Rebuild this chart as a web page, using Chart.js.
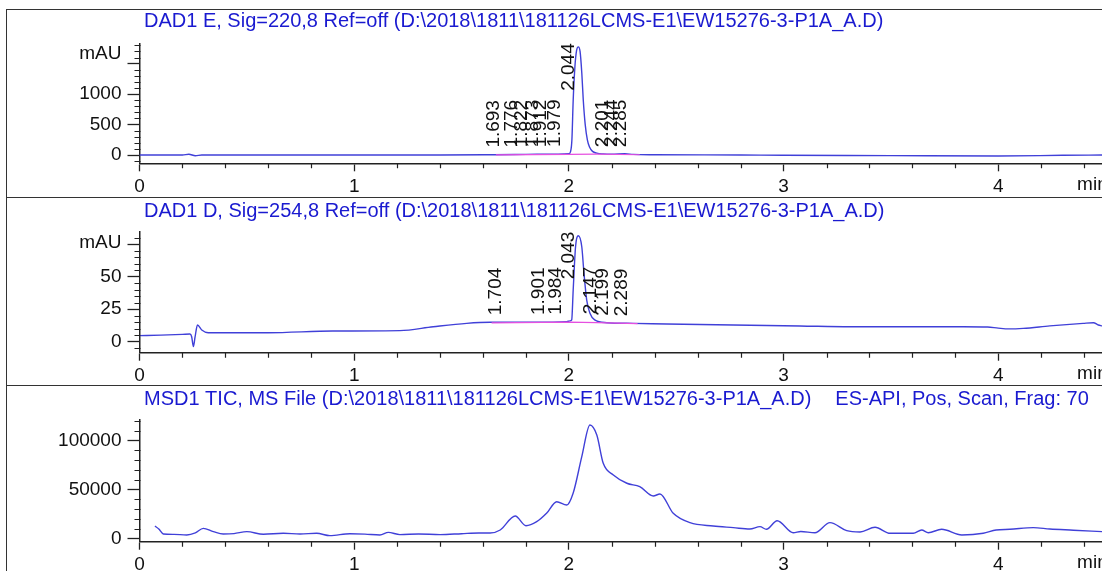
<!DOCTYPE html>
<html>
<head>
<meta charset="utf-8">
<script src="https://cdn.jsdelivr.net/npm/chart.js@4.4.0/dist/chart.umd.min.js"></script>
<style>
body { margin: 0; background: #fff; width: 1102px; height: 571px; overflow: hidden; position: relative; }
.frame { position: absolute; left: 6px; width: 1200px; border-left: 1.5px solid #333; border-top: 1.5px solid #333; }
canvas { position: absolute; left: 0; }
</style>
</head>
<body>
<div class="frame" style="top:9px;height:188px"></div>
<div class="frame" style="top:197px;height:188px"></div>
<div class="frame" style="top:385px;height:200px"></div>
<canvas id="c1" width="1102" height="188" style="top:9px"></canvas>
<canvas id="c2" width="1102" height="188" style="top:197px"></canvas>
<canvas id="c3" width="1102" height="186" style="top:385px"></canvas>
<script>
// time axis (min)
const xMajor = [0, 1, 2, 3, 4];
const xMax = 4.483;

// DAD1 E, 220 nm
const dadETime = [0, 0.2, 0.23, 0.26, 0.29, 0.6, 1.0, 1.4, 1.65, 1.8, 1.95, 2.0, 2.008, 2.014, 2.02, 2.028, 2.036, 2.044, 2.052, 2.06, 2.067, 2.076, 2.086, 2.096, 2.11, 2.13, 2.16, 2.2, 2.26, 2.3, 2.4, 2.8, 3.0, 3.5, 4.0, 4.3, 4.483];
const dadEValue = [0, 0, 12, -12, 0, 0, 0, 0, 5, 10, 15, 20, 60, 250, 900, 1450, 1720, 1776, 1700, 1350, 900, 500, 250, 130, 60, 30, 18, 14, 20, 10, 5, 0, -5, -10, -15, -5, 0];
const dadEBaseTime = [1.66, 2.0, 2.13, 2.33];
const dadEBaseValue = [2, 12, 14, 4];
const dadEPeaks = ['1.693', '1.776', '1.822', '1.873', '1.912', '1.979', '2.044', '2.201', '2.244', '2.285'];
const dadETicks = [0, 500, 1000, 1500];
const dadELabels = ['0', '500', '1000', ''];

// DAD1 D, 254 nm
const dadDTime = [0, 0.1, 0.2, 0.235, 0.243, 0.251, 0.259, 0.27, 0.29, 0.32, 0.45, 0.6, 0.9, 1.213, 1.368, 1.524, 1.633, 1.835, 1.99, 2.005, 2.013, 2.02, 2.031, 2.044, 2.06, 2.07, 2.083, 2.098, 2.12, 2.176, 2.3, 2.455, 2.765, 3.076, 3.31, 3.837, 3.95, 4.0, 4.05, 4.116, 4.24, 4.395, 4.443, 4.466, 4.483];
const dadDValue = [4.6, 5.0, 5.6, 5.9, 3.8, -3.8, 3.8, 12.8, 9.0, 6.9, 6.9, 6.9, 8.2, 8.5, 11.5, 14.1, 14.9, 14.9, 15.4, 16.0, 16.7, 39.8, 73, 81.5, 73, 53, 32, 21.8, 16.7, 14.6, 14.1, 13.6, 12.8, 12.1, 11.5, 11.5, 11.3, 10.4, 9.8, 10.2, 12.1, 14.1, 14.6, 12.8, 12.1];
const dadDBaseTime = [1.64, 2.0, 2.13, 2.32];
const dadDBaseValue = [14.4, 15.0, 14.6, 13.9];
const dadDPeaks = ['1.704', '1.901', '1.984', '2.043', '2.147', '2.199', '2.289'];
const dadDTicks = [0, 25, 50, 75];
const dadDLabels = ['0', '25', '50', ''];

// MSD1 TIC
const ticTime = [0.072, 0.09, 0.111, 0.16, 0.22, 0.26, 0.297, 0.344, 0.39, 0.44, 0.5, 0.577, 0.67, 0.748, 0.825, 0.887, 0.98, 1.05, 1.12, 1.159, 1.213, 1.3, 1.4, 1.5, 1.58, 1.633, 1.68, 1.75, 1.8, 1.85, 1.897, 1.943, 1.99, 2.02, 2.06, 2.098, 2.13, 2.16, 2.207, 2.27, 2.33, 2.393, 2.424, 2.486, 2.564, 2.672, 2.766, 2.843, 2.89, 2.92, 2.97, 3.045, 3.08, 3.146, 3.216, 3.294, 3.356, 3.426, 3.496, 3.604, 3.643, 3.674, 3.736, 3.83, 3.93, 3.99, 4.054, 4.163, 4.24, 4.35, 4.483];
const ticValue = [12600, 9500, 4400, 4000, 3400, 5500, 10200, 6800, 4400, 4800, 6800, 4100, 5100, 4400, 5100, 2700, 4700, 4300, 3400, 6100, 3800, 4400, 3800, 4700, 5400, 5400, 8500, 22800, 12900, 17000, 25900, 37500, 34100, 46400, 83600, 116100, 105800, 76800, 64900, 56400, 52900, 43300, 45400, 25600, 16000, 12600, 10900, 9500, 11900, 9200, 18000, 5700, 7000, 5700, 16000, 7800, 6500, 11300, 5100, 5100, 8500, 5700, 9200, 3400, 5100, 8500, 9200, 10900, 9500, 8300, 6800];
const ticTicks = [0, 50000, 100000];
const ticLabels = ['0', '50000', '100000'];

const FONT = 'Arial, "Liberation Sans", sans-serif';

function pts(ts, vs) {
    return ts.map((t, i) => ({ x: t, y: vs[i] }));
}

function valueAt(ts, vs, t) {
    for (let i = 1; i < ts.length; i++) {
        if (t <= ts[i]) {
            const f = (t - ts[i - 1]) / (ts[i] - ts[i - 1]);
            return vs[i - 1] + f * (vs[i] - vs[i - 1]);
        }
    }
    return vs[vs.length - 1];
}

function minorList(from, to, step, majorStep) {
    const out = [];
    for (let v = from; v <= to + 1e-9; v += step) {
        const r = Math.round(v / step) * step;
        if (Math.abs(r / majorStep - Math.round(r / majorStep)) > 1e-6) out.push(r);
    }
    return out;
}

const xMinor = minorList(0, 4.4, 0.2, 1);

const chromPlugin = {
    id: 'chrom',
    afterDatasetsDraw(chart, args, opts) {
        const { ctx, chartArea } = chart;
        const x = chart.scales.x, y = chart.scales.y;
        ctx.save();
        // minor ticks
        ctx.strokeStyle = '#222';
        ctx.lineWidth = 1.2;
        ctx.beginPath();
        opts.yMinor.forEach(v => {
            const py = Math.round(y.getPixelForValue(v)) + 0.5;
            ctx.moveTo(chartArea.left - 5, py);
            ctx.lineTo(chartArea.left + 1, py);
        });
        xMinor.forEach(v => {
            const px = Math.round(x.getPixelForValue(v)) + 0.5;
            ctx.moveTo(px, chartArea.bottom);
            ctx.lineTo(px, chartArea.bottom + 5);
        });
        ctx.stroke();

        // titles
        ctx.font = '20px ' + FONT;
        ctx.fillStyle = '#1a1ad0';
        ctx.textAlign = 'left';
        ctx.textBaseline = 'alphabetic';
        ctx.fillText(opts.title, chartArea.left + 4.5, opts.titleY);
        if (opts.title2) {
            const w = ctx.measureText(opts.title).width;
            ctx.fillText(opts.title2, chartArea.left + 4.5 + w + 24, opts.titleY);
        }

        // unit labels
        ctx.font = '19px ' + FONT;
        ctx.fillStyle = '#111';
        if (opts.unit) {
            ctx.textAlign = 'right';
            ctx.textBaseline = 'middle';
            ctx.fillText(opts.unit, chartArea.left - 18, y.getPixelForValue(opts.unitAt));
        }
        ctx.textAlign = 'left';
        ctx.textBaseline = 'top';
        ctx.fillText('min', x.getPixelForValue(4.367), chartArea.bottom + 12);

        // retention time labels
        if (opts.peaks) {
            opts.peaks.forEach(lbl => {
                const t = parseFloat(lbl);
                const len = ctx.measureText(lbl).width;
                let start = y.getPixelForValue(valueAt(opts.ts, opts.vs, t)) - 7;
                if (start - len < chartArea.top) start = chartArea.top + len;
                ctx.save();
                ctx.translate(x.getPixelForValue(t) - 4, start);
                ctx.rotate(-Math.PI / 2);
                ctx.textAlign = 'left';
                ctx.textBaseline = 'alphabetic';
                ctx.fillText(lbl, 0, 0);
                ctx.restore();
            });
        }
        ctx.restore();
    }
};

function makeChart(id, c) {
    const datasets = [];
    if (c.base) {
        datasets.push({ data: c.base, borderColor: '#e650e0', borderWidth: 1.2, pointRadius: 0 });
    }
    datasets.push({ data: c.trace, borderColor: '#4040d8', borderWidth: 1.4, pointRadius: 0, cubicInterpolationMode: 'monotone' });

    return new Chart(document.getElementById(id), {
        type: 'line',
        data: { datasets: datasets },
        plugins: [chromPlugin],
        options: {
            responsive: false,
            animation: false,
            events: [],
            layout: { padding: { top: c.padTop, left: 0, right: 0, bottom: 0 } },
            plugins: {
                legend: { display: false },
                tooltip: { enabled: false },
                chrom: c.chrom
            },
            scales: {
                x: {
                    type: 'linear', min: 0, max: xMax,
                    afterBuildTicks: s => { s.ticks = xMajor.map(v => ({ value: v })); },
                    afterFit: s => { s.height = c.xAxisH; },
                    ticks: { callback: v => String(v), font: { size: 19, family: FONT }, color: '#111', padding: 4, maxRotation: 0, autoSkip: false },
                    grid: { drawOnChartArea: false, tickLength: 8, tickColor: '#222', tickWidth: 1.3 },
                    border: { color: '#222', width: 1.5 }
                },
                y: {
                    min: c.yMin, max: c.yMax,
                    afterBuildTicks: s => { s.ticks = c.yTicks.map(v => ({ value: v })); },
                    afterFit: s => { s.width = 139.5; },
                    ticks: { callback: (v, i) => c.yLabels[i], font: { size: 19, family: FONT }, color: '#111', padding: 6, autoSkip: false },
                    grid: { drawOnChartArea: false, tickLength: 12, tickColor: '#222', tickWidth: 1.3 },
                    border: { color: '#222', width: 1.5 }
                }
            }
        }
    });
}

makeChart('c1', {
    trace: pts(dadETime, dadEValue),
    base: pts(dadEBaseTime, dadEBaseValue),
    yMin: -136, yMax: 1834, yTicks: dadETicks, yLabels: dadELabels,
    padTop: 34.3, xAxisH: 33.7,
    chrom: {
        title: 'DAD1 E, Sig=220,8 Ref=off (D:\\2018\\1811\\181126LCMS-E1\\EW15276-3-P1A_A.D)',
        titleY: 17.7, unit: 'mAU', unitAt: 1670,
        yMinor: minorList(-100, 1800, 100, 500),
        peaks: dadEPeaks, ts: dadETime, vs: dadEValue
    }
});

makeChart('c2', {
    trace: pts(dadDTime, dadDValue),
    base: pts(dadDBaseTime, dadDBaseValue),
    yMin: -8.5, yMax: 84.6, yTicks: dadDTicks, yLabels: dadDLabels,
    padTop: 34.7, xAxisH: 32.3,
    chrom: {
        title: 'DAD1 D, Sig=254,8 Ref=off (D:\\2018\\1811\\181126LCMS-E1\\EW15276-3-P1A_A.D)',
        titleY: 19.7, unit: 'mAU', unitAt: 76,
        yMinor: minorList(-5, 80, 5, 25),
        peaks: dadDPeaks, ts: dadDTime, vs: dadDValue
    }
});

makeChart('c3', {
    trace: pts(ticTime, ticValue),
    yMin: -3500, yMax: 121200, yTicks: ticTicks, yLabels: ticLabels,
    padTop: 35, xAxisH: 29.3,
    chrom: {
        title: 'MSD1 TIC, MS File (D:\\2018\\1811\\181126LCMS-E1\\EW15276-3-P1A_A.D)',
        title2: 'ES-API, Pos, Scan, Frag: 70',
        titleY: 20,
        yMinor: minorList(0, 120000, 10000, 50000)
    }
});
</script>
</body>
</html>
